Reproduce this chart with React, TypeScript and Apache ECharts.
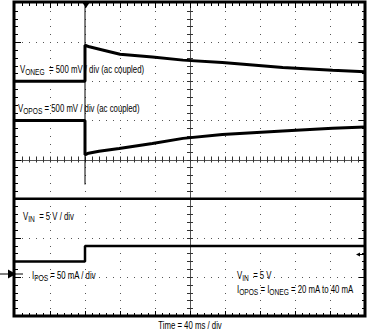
import React, { useEffect, useRef } from "react";
import * as echarts from "echarts";

// time in ms (40 ms / div), amplitude in divisions
const vOnegT = [0, 80, 80, 85, 100, 120, 157, 192, 237, 306, 363, 400];
const vOnegY = [2.0, 2.0, 2.92, 2.88, 2.8, 2.69, 2.62, 2.54, 2.48, 2.35, 2.28, 2.24];
const vOposT = [0, 80, 80, 84, 96, 119, 157, 192, 237, 306, 363, 400];
const vOposY = [1.0, 1.0, 0.12, 0.16, 0.21, 0.28, 0.41, 0.54, 0.64, 0.73, 0.8, 0.83];
const vInT = [0, 400];
const vInY = [-1.0, -1.0];
const iPosT = [0, 80, 80, 400];
const iPosY = [-2.61, -2.61, -2.21, -2.21];
const glitchT = [80, 80];
const glitchY = [4.0, -0.64];

const xMin = 0, xMax = 400, xStep = 40;
const yMin = -4, yMax = 4, yStep = 1;
const xDivs = 10, yDivs = 8, minorPerDiv = 5;

const G = { left: 15, top: 3, width: 350, height: 313 };
const FONT = '"Liberation Sans", Arial, sans-serif';
const SX = 0.78;

const pairs = (t: number[], y: number[]) => t.map((v, i) => [v, y[i]]);

function richLabel(parts: [string, string][]) {
  return parts.map(([k, s]) => `{${k}|${s}}`).join("");
}

export default function App() {
  const ref = useRef<HTMLDivElement>(null);
  useEffect(() => {
    const chart = echarts.init(ref.current!, null, { renderer: "svg" });
    const L = G.left, T = G.top, R = G.left + G.width, B = G.top + G.height;
    const cx = L + G.width / 2;
    const cy = T + G.height / 2;
    const divX = G.width / xDivs, divY = G.height / yDivs;
    const dx = divX / minorPerDiv;
    const dy = divY / minorPerDiv;
    const graphics: any[] = [];
    const ln = (x1: number, y1: number, x2: number, y2: number, stroke: string, w = 1, z = 1) =>
      graphics.push({ type: "line", z, silent: true, shape: { x1, y1, x2, y2 }, style: { stroke, lineWidth: w } });
    const dot = (x: number, y: number) =>
      graphics.push({ type: "rect", z: 0, silent: true, shape: { x: Math.round(x), y: Math.round(y), width: 1, height: 1 }, style: { fill: "#555" } });

    // dotted grid lines
    for (let k = 1; k < xDivs; k++) {
      if (k === xDivs / 2) continue;
      const x = L + k * divX;
      for (let j = 1; j < yDivs * minorPerDiv; j++) dot(x, T + j * dy);
    }
    for (let k = 1; k < yDivs; k++) {
      if (k === yDivs / 2) continue;
      const y = T + k * divY;
      for (let j = 1; j < xDivs * minorPerDiv; j++) dot(L + j * dx, y);
    }
    // center cross
    ln(L, Math.round(cy) + 0.5, R, Math.round(cy) + 0.5, "#555");
    ln(Math.round(cx) + 0.5, T, Math.round(cx) + 0.5, B, "#555");
    for (let i = 1; i < xDivs * minorPerDiv; i++) {
      const x = Math.round(L + i * dx) + 0.5;
      ln(x, cy - 3, x, cy + 3, "#333");
      const len = i % minorPerDiv === 0 ? 5 : 3;
      ln(x, T, x, T + len, "#000");
      ln(x, B, x, B - len, "#000");
    }
    for (let i = 1; i < yDivs * minorPerDiv; i++) {
      const y = Math.round(T + i * dy) + 0.5;
      ln(cx - 3, y, cx + 3, y, "#333");
      const len = i % minorPerDiv === 0 ? 6 : 3;
      ln(L, y, L + len, y, "#000");
      ln(R, y, R - len, y, "#000");
    }
    // frame
    graphics.push({ type: "rect", z: 8, silent: true, shape: { x: L - 1, y: T - 1, width: G.width + 1, height: G.height + 1 }, style: { fill: "none", stroke: "#000", lineWidth: 3 } });

    // markers
    graphics.push({ type: "polygon", z: 10, shape: { points: [[82, 2], [90, 2], [86, 8]] }, style: { fill: "#000" } });
    ln(0, 274, 23, 274, "#000", 1, 10);
    graphics.push({ type: "polygon", z: 10, shape: { points: [[8, 269.5], [8, 278.5], [16, 274]] }, style: { fill: "#000" } });
    ln(358, 254.5, 364, 254.5, "#000", 1, 10);
    graphics.push({ type: "polygon", z: 10, shape: { points: [[356, 254.5], [360, 252.5], [360, 256.5]] }, style: { fill: "#000" } });

    const rich = {
      m: { fontSize: 10, fontFamily: FONT, fill: "#000" },
      s: { fontSize: 8.5, fontFamily: FONT, fill: "#000", padding: [6, 0, 0, 0] },
    };
    const texts: [number, number, [string, string][]][] = [
      [20, 62, [["m", "V"], ["s", "ONEG"], ["m", "  = 500 mV / div (ac coupled)"]]],
      [18, 101, [["m", "V"], ["s", "OPOS"], ["m", " = 500 mV / div (ac coupled)"]]],
      [23, 209, [["m", "V"], ["s", "IN"], ["m", "  = 5 V / div"]]],
      [32, 268, [["m", "I"], ["s", "POS"], ["m", " = 50 mA / div"]]],
      [237, 268, [["m", "V"], ["s", "IN"], ["m", "  = 5 V"]]],
      [237, 282, [["m", "I"], ["s", "OPOS"], ["m", " = I"], ["s", "ONEG"], ["m", " = 20 mA to 40 mA"]]],
    ];
    texts.forEach(([x, y, parts]) => {
      graphics.push({ type: "text", z: 20, x, y, scaleX: SX, style: { text: richLabel(parts), rich } });
    });
    graphics.push({ type: "text", z: 20, x: 190, y: 321, scaleX: SX, style: { text: "Time = 40 ms / div", fontSize: 10, fontFamily: FONT, fill: "#000", align: "center" } });

    const hidden = {
      axisLabel: { show: false }, axisLine: { show: false }, axisTick: { show: false }, splitLine: { show: false },
    };
    const lineSeries = (name: string, t: number[], y: number[], w: number) => ({
      name, type: "line", data: pairs(t, y), showSymbol: false, symbol: "none", z: 5,
      lineStyle: { color: "#000", width: w }, silent: true,
    });

    chart.setOption({
      animation: false,
      grid: { left: G.left, top: G.top, width: G.width, height: G.height, show: false },
      xAxis: { type: "value", min: xMin, max: xMax, interval: xStep, ...hidden },
      yAxis: { type: "value", min: yMin, max: yMax, interval: yStep, ...hidden },
      series: [
        lineSeries("glitch", glitchT, glitchY, 1),
        lineSeries("VONEG", vOnegT, vOnegY, 3),
        lineSeries("VOPOS", vOposT, vOposY, 3),
        lineSeries("VIN", vInT, vInY, 2.5),
        lineSeries("IPOS", iPosT, iPosY, 2.5),
      ],
      graphic: { elements: graphics },
    });
    return () => chart.dispose();
  }, []);
  return <div ref={ref} style={{ position: "fixed", left: 0, top: 0, width: 367, height: 332, background: "#fff" }} />;
}
